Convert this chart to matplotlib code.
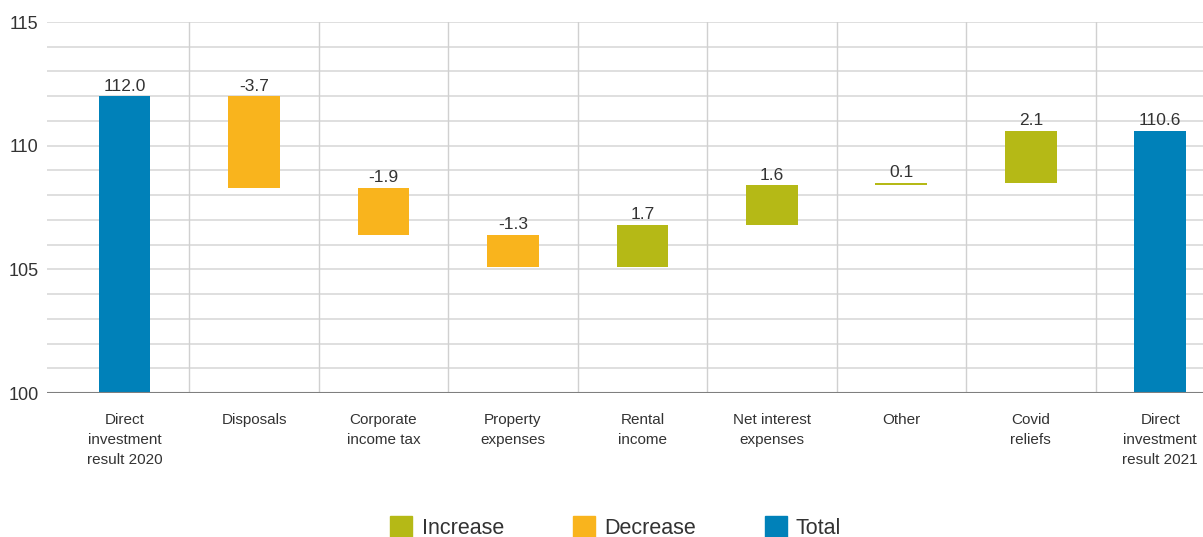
import matplotlib.pyplot as plt
from matplotlib.lines import Line2D
import numpy as np

plt.rcParams['font.family'] = ['Liberation Sans', 'DejaVu Sans']

categories = ['Direct\ninvestment\nresult 2020', 'Disposals', 'Corporate\nincome tax',
              'Property\nexpenses', 'Rental\nincome', 'Net interest\nexpenses', 'Other',
              'Covid\nreliefs', 'Direct\ninvestment\nresult 2021']
start_total = 112.0
changes = [-3.7, -1.9, -1.3, 1.7, 1.6, 0.1, 2.1]
end_total = 110.6

c_inc = '#b5b916'
c_dec = '#f9b41d'
c_tot = '#0081b9'
txt = '#333333'

fig = plt.figure(figsize=(12.03, 5.37), dpi=100)
ax = fig.add_axes([0.039, 0.268, 0.961, 0.691])

# waterfall geometry
bottoms = []
heights = []
colors = []
labels = []
bottoms.append(100)
heights.append(start_total - 100)
colors.append(c_tot)
labels.append('%.1f' % start_total)
level = start_total
for ch in changes:
    new = round(level + ch, 2)
    bottoms.append(min(level, new))
    heights.append(abs(ch))
    colors.append(c_inc if ch > 0 else c_dec)
    labels.append('%.1f' % ch)
    level = new
bottoms.append(100)
heights.append(end_total - 100)
colors.append(c_tot)
labels.append('%.1f' % end_total)

x = np.arange(len(categories))

# grid
for yv in range(101, 116):
    ax.axhline(yv, color='#d9d9d9', lw=1.2, zorder=0)
for xv in x[:-1] + 0.5:
    ax.plot([xv, xv], [100, 115], color='#d0d0d0', lw=1.0, zorder=0)
ax.axhline(100, color='#7f7f7f', lw=1.5, zorder=3)

ax.bar(x, heights, bottom=bottoms, width=0.4, color=colors, zorder=2)
for xi, b, h, lab in zip(x, bottoms, heights, labels):
    ax.text(xi, b + h + 0.1, lab, ha='center', va='bottom', fontsize=12.5, color=txt)

ax.set_xlim(-0.6, 8.33)
ax.set_ylim(100, 115)
ax.set_yticks([100, 105, 110, 115])
ax.set_yticklabels(['100', '105', '110', '115'], fontsize=13, color=txt)
ax.set_xticks(x)
ax.set_xticklabels(categories, fontsize=11, color=txt, linespacing=1.55)
ax.tick_params(axis='both', length=0)
ax.tick_params(axis='y', pad=6)
ax.tick_params(axis='x', pad=14)
for s in ax.spines.values():
    s.set_visible(False)

handles = [Line2D([], [], marker='s', ls='', color=c, markersize=16) for c in (c_inc, c_dec, c_tot)]
fig.legend(handles, ['Increase', 'Decrease', 'Total'], loc='lower center',
           bbox_to_anchor=(0.512, -0.04), ncol=3, frameon=False, fontsize=15.5,
           handlelength=1.0, handletextpad=0.45, columnspacing=3.2, labelcolor=txt)

plt.savefig('out.png', dpi=100)
